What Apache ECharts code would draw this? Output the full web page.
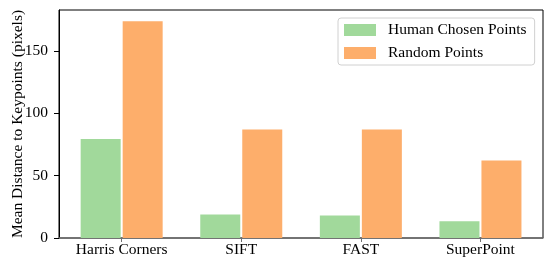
<!DOCTYPE html>
<html>
<head>
<meta charset="utf-8">
<script src="https://cdn.jsdelivr.net/npm/echarts@6/dist/echarts.min.js"></script>
<style>html,body{margin:0;padding:0;background:#fff}#c{width:545px;height:260px}</style>
</head>
<body>
<div id="c"></div>
<script>
var categories = ['Harris Corners', 'SIFT', 'FAST', 'SuperPoint'];
var humanValues = [79.5, 18.8, 18.0, 13.4];
var randomValues = [174, 87, 87, 62.2];
var yTicks = [0, 50, 100, 150];
var seriesNames = ['Human Chosen Points', 'Random Points'];

var font = 'Liberation Serif, Times New Roman, serif';
var chart = echarts.init(document.getElementById('c'), null, {renderer: 'canvas'});
function pairs(vals) { return vals.map(function (v, i) { return [i, v]; }); }
chart.setOption({
  animation: false,
  grid: {left: 59, top: 10, right: 2, bottom: 22, show: true, borderColor: '#000', borderWidth: 1,
         containLabel: false, outerBoundsMode: 'none'},
  legend: {
    orient: 'vertical', left: 338, top: 18,
    itemWidth: 32, itemHeight: 12, itemGap: 7,
    padding: [4, 8, 4, 6],
    borderColor: '#d0d0d0', borderWidth: 1, borderRadius: 3,
    backgroundColor: '#fff',
    icon: 'rect',
    textStyle: {fontFamily: font, fontSize: 15.5, color: '#000', lineHeight: 16, padding: [0, 0, 0, 7]},
    data: seriesNames
  },
  xAxis: {
    type: 'value', min: -0.524, max: 3.523,
    splitLine: {show: false},
    axisLine: {show: true, onZero: false, lineStyle: {color: '#707070', width: 1.5}},
    axisTick: {show: true, length: 4, lineStyle: {color: '#707070'}, customValues: [0, 1, 2, 3]},
    axisLabel: {
      customValues: [0, 1, 2, 3], margin: 4,
      fontFamily: font, fontSize: 15.5, color: '#000',
      formatter: function (v) { return categories[Math.round(v)]; }
    }
  },
  yAxis: {
    type: 'value', min: 0, max: 183, interval: 50,
    name: 'Mean Distance to Keypoints (pixels)', nameLocation: 'middle', nameGap: 33,
    nameMoveOverlap: false,
    nameTextStyle: {fontFamily: font, fontSize: 15.5, color: '#000'},
    splitLine: {show: false},
    axisLine: {show: true, onZero: false, lineStyle: {color: '#000', width: 1}},
    axisTick: {show: true, length: 5, lineStyle: {color: '#000'}, customValues: yTicks},
    axisLabel: {customValues: yTicks, margin: 11, fontFamily: font, fontSize: 15.5, color: '#000'}
  },
  series: [
    {name: seriesNames[0], type: 'bar', data: pairs(humanValues), barWidth: 40, barGap: '5%', itemStyle: {color: '#a1d99b'}},
    {name: seriesNames[1], type: 'bar', data: pairs(randomValues), barWidth: 40, barGap: '5%', itemStyle: {color: '#fdae6b'}}
  ]
});
</script>
</body>
</html>
